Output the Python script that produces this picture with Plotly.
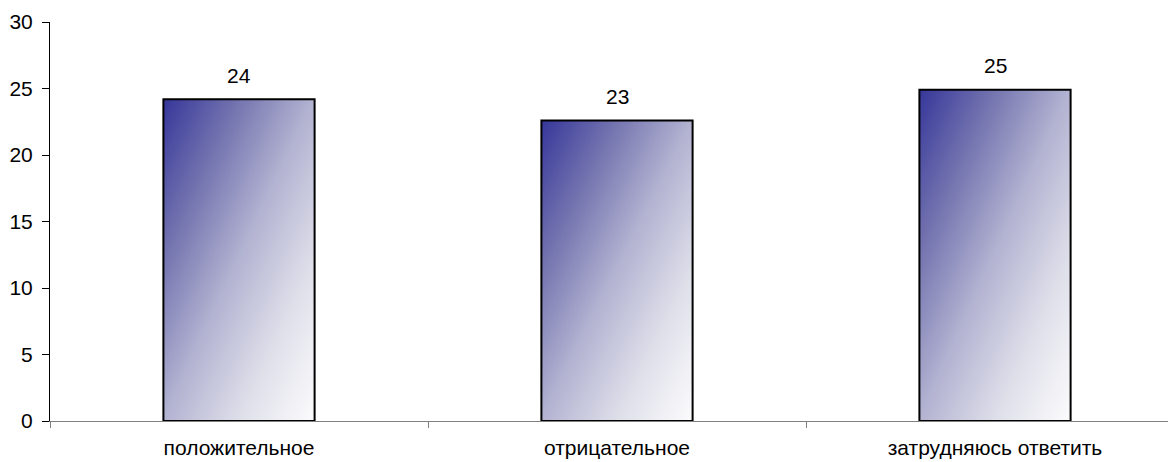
import base64
import plotly.graph_objects as go

categories = ["положительное", "отрицательное", "затрудняюсь ответить"]
values = [24.2, 22.6, 24.9]
y_ticks = [0, 5, 10, 15, 20, 25, 30]

FONT = "Liberation Sans, Arial, sans-serif"
FONT_SIZE = 21
BAR_WIDTH = 0.4

# diagonal gradient (dark blue top-left -> white bottom-right), like the Excel fill
svg = (
    "<svg xmlns='http://www.w3.org/2000/svg' width='100' height='100' "
    "viewBox='0 0 100 100' preserveAspectRatio='none'>"
    "<defs><linearGradient id='g' x1='0' y1='0' x2='1' y2='1'>"
    "<stop offset='0' stop-color='#36369a'/>"
    "<stop offset='0.25' stop-color='#7474b0'/>"
    "<stop offset='0.5' stop-color='#b3b3d2'/>"
    "<stop offset='0.75' stop-color='#dfdfea'/>"
    "<stop offset='1' stop-color='#fcfcfd'/>"
    "</linearGradient></defs>"
    "<rect width='100' height='100' fill='url(#g)'/></svg>"
)
grad_src = "data:image/svg+xml;base64," + base64.b64encode(svg.encode()).decode()

fig = go.Figure()

fig.add_trace(go.Bar(
    x=categories,
    y=values,
    width=BAR_WIDTH,
    marker=dict(color="rgba(0,0,0,0)", line=dict(color="black", width=2)),
    hoverinfo="x+y",
))

images = []
annotations = []
for i, (cat, val) in enumerate(zip(categories, values)):
    images.append(dict(
        source=grad_src,
        xref="x", yref="y",
        x=i - BAR_WIDTH / 2, y=val,
        sizex=BAR_WIDTH, sizey=val,
        xanchor="left", yanchor="top",
        sizing="stretch", layer="below",
    ))
    annotations.append(dict(
        x=cat, y=val, text=f"{val:.0f}",
        showarrow=False, yshift=24,
        font=dict(family=FONT, size=FONT_SIZE, color="black"),
    ))

# the page body adds an 8px offset, margins account for it
fig.update_layout(
    width=1176,
    height=462,
    margin=dict(l=42, r=0, t=14, b=49),
    plot_bgcolor="white",
    paper_bgcolor="white",
    showlegend=False,
    font=dict(family=FONT, size=FONT_SIZE, color="black"),
    images=images,
    annotations=annotations,
)

fig.update_xaxes(
    type="category",
    range=[-0.5, 2.5],
    automargin=False,
    showline=True,
    linecolor="#808080",
    linewidth=1,
    ticks="outside",
    tickson="boundaries",
    ticklen=6,
    tickcolor="#808080",
    ticklabelstandoff=8,
    showgrid=False,
    zeroline=False,
    tickfont=dict(family=FONT, size=FONT_SIZE),
)

fig.update_yaxes(
    range=[0, 30],
    tickvals=y_ticks,
    automargin=False,
    showline=True,
    linecolor="black",
    linewidth=1,
    ticks="outside",
    ticklen=7,
    tickcolor="black",
    ticklabelstandoff=5,
    showgrid=False,
    zeroline=False,
    tickfont=dict(family=FONT, size=FONT_SIZE),
)

fig.write_html("out.html")
